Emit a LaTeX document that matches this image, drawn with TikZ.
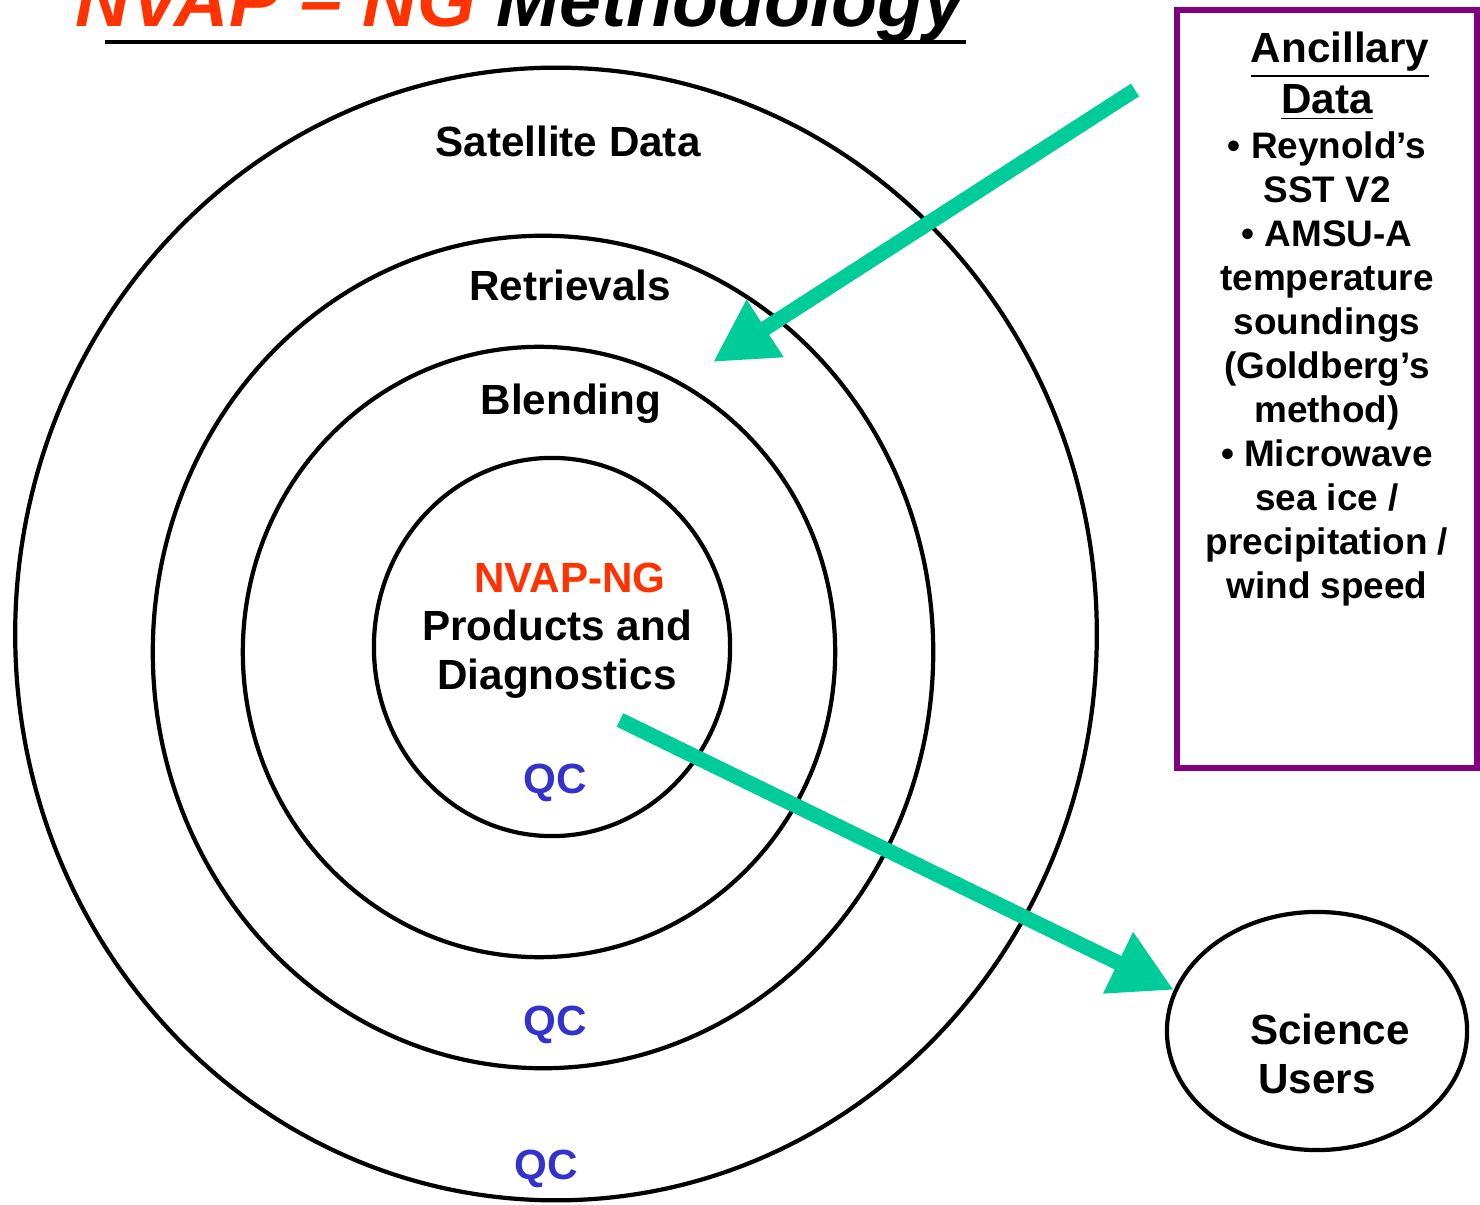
\documentclass[tikz,border=0pt]{standalone}
\usepackage{fontspec}
\setmainfont{Liberation Sans}
\usepackage{tikz}
\usetikzlibrary{arrows.meta,positioning,calc,shapes.geometric}
\definecolor{nvaporange}{HTML}{FF3300}
\definecolor{qcblue}{HTML}{3333CC}
\definecolor{flowgreen}{HTML}{00CC99}
\definecolor{ancpurple}{HTML}{800080}

\tikzset{
  ring/.style={draw,ellipse,line width=1.2pt,inner sep=0pt},
  ringlabel/.style={anchor=base,inner sep=0pt},
  qclabel/.style={anchor=base,inner sep=0pt,text=qcblue},
  flow/.style={-{Triangle[length=0.62cm,width=0.64cm]},flowgreen,line width=0.15cm}
}

\begin{document}
\begin{tikzpicture}[x=0.01cm,y=-0.01cm,font=\bfseries\fontsize{12}{14}\selectfont]
        \useasboundingbox (0,0) rectangle (1480,1204);
        % title
        \node[anchor=base west,inner sep=0pt,font=\bfseries\itshape\fontsize{21.4}{25}\selectfont]
              (title) at (75,27) {\textcolor{nvaporange}{NVAP – NG} Methodology};
        \draw[line width=1.3pt] ([xshift=0.3cm,yshift=-0.15cm]title.base west)
              -- ([yshift=-0.15cm]title.base east);
        % rings
        \node[ring,minimum width=10.81cm,minimum height=11.32cm] (sat)   at (556,634) {};
        \node[ring,minimum width=7.80cm,minimum height=8.32cm]   (retr)  at (543,652) {};
        \node[ring,minimum width=5.92cm,minimum height=6.10cm]   (blend) at (539,652) {};
        \node[ring,minimum width=3.56cm,minimum height=3.78cm]   (prod)  at (552,647) {};
        \node[ringlabel] (satlabel)   at (568,157) {Satellite Data};
        \node[ringlabel] (retrlabel)  at (570,301) {Retrievals};
        \node[ringlabel] (blendlabel) at (571,415) {Blending};
        \node[ringlabel,text=nvaporange] (ngname) at (570,592) {NVAP-NG};
        \node[inner sep=0pt,align=center,below=0.16cm of ngname,xshift=-0.13cm]
              (prodlabel) {Products and\\Diagnostics};
        \node[qclabel] (qcprod) at (555,793)  {QC};
        \node[qclabel] (qcblend) at (555,1035) {QC};
        \node[qclabel] (qcsat)  at (546,1179) {QC};
        % ancillary data
        \node[draw=ancpurple,line width=1.7pt,minimum width=3.0cm,minimum height=7.57cm,
              inner sep=0pt] (anc) at (1327,389) {};
        \node[inner sep=0pt,align=center,font=\bfseries\fontsize{12}{14.5}\selectfont,
              anchor=north] (anchead) at (1327,31)
              {\hspace*{0.26cm}\underline{Ancillary}\\\underline{Data}};
        \node[inner sep=0pt,align=center,font=\bfseries\fontsize{10.5}{12.5}\selectfont,
              anchor=north] (anclist) at (1327,131)
              {• Reynold’s\\SST V2\\• AMSU-A\\temperature\\soundings\\(Goldberg’s\\method)\\
               • Microwave\\sea ice /\\precipitation /\\wind speed};
        % users
        \node[ring,minimum width=3.0cm,minimum height=2.38cm] (users) at (1317,1031) {};
        \node[inner sep=0pt,align=center] (userslabel) at (1317,1054)
              {\hspace*{0.26cm}Science\\Users};
        % flows
        \coordinate (anctail) at (1135,90);
        \coordinate (anctip)  at (713,362);
        \coordinate (prodtail) at (620,720);
        \draw[flow] (anctail) -- (anctip);
        \draw[flow] (prodtail) -- (users.164);
      \end{tikzpicture}
\end{document}
